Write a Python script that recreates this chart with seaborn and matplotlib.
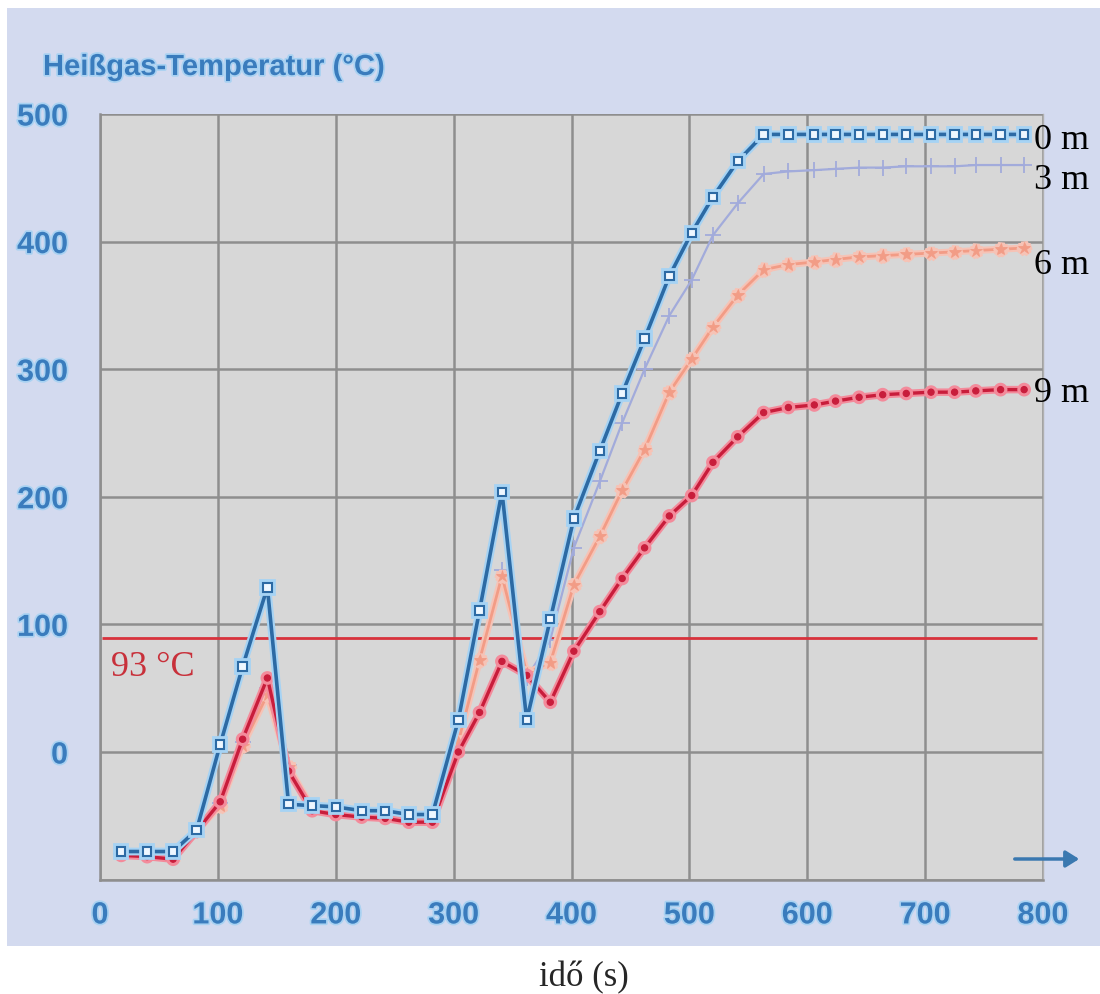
import matplotlib
matplotlib.use("Agg")
import matplotlib.pyplot as plt
import matplotlib.patheffects as pe
from matplotlib.patches import Rectangle, FancyArrowPatch
import seaborn as sns
import pandas as pd

# ---------------- data ----------------
time_s = [18, 40, 62, 82, 102, 121, 142, 160, 180, 200, 222, 242, 262, 282,
          304, 322, 341, 362, 382, 402, 424, 443, 462, 483, 502, 520, 541,
          563, 584, 606, 624, 644, 664, 684, 705, 725, 743, 764, 784]

temp_0m = [-78, -78, -78, -61, 6, 67, 129, -41, -42, -43, -46, -46, -49, -49,
           25, 111, 204, 25, 104, 183, 236, 281, 324, 373, 407, 435, 463,
           484, 484, 484, 484, 484, 484, 484, 484, 484, 484, 484, 484]

temp_3m = [-80, -80, -81, -62, -40, 8, 50, -10, -43, -46, -48, -49, -51, -52,
           10, 72, 143, 58, 88, 160, 212, 258, 300, 342, 370, 405, 430,
           453, 455, 456, 457, 458, 458, 459, 459, 459, 460, 460, 460]

temp_6m = [-79, -80, -82, -62, -42, 5, 45, -12, -44, -47, -49, -50, -52, -53,
           8, 72, 138, 62, 70, 131, 169, 205, 237, 282, 308, 333, 358,
           378, 382, 384, 386, 388, 389, 390, 391, 392, 393, 394, 395]

temp_9m = [-81, -82, -84, -62, -39, 10, 58, -15, -46, -49, -51, -52, -55, -55,
           0, 31, 71, 60, 39, 79, 110, 136, 160, 185, 201, 227, 247,
           266, 270, 272, 275, 278, 280, 281, 282, 282, 283, 284, 284]

series_names = ["0 m", "3 m", "6 m", "9 m"]
label_y = [480, 449, 382, 282]

threshold_value = 89
threshold_label = "93 °C"

x_ticks = [0, 100, 200, 300, 400, 500, 600, 700, 800]
y_ticks = [-100, 0, 100, 200, 300, 400, 500]
y_tick_labels = ["", "0", "100", "200", "300", "400", "500"]

title_text = "Heißgas-Temperatur (°C)"
xlabel_text = "idő (s)"

# ---------------- styling ----------------
sns.set_style("white")
plt.rcParams["font.family"] = ["Liberation Sans", "DejaVu Sans"]
SERIF = ["Liberation Serif", "DejaVu Serif"]

df = pd.DataFrame({
    "t": time_s * 4,
    "T": temp_0m + temp_3m + temp_6m + temp_9m,
    "depth": sum([[n] * len(time_s) for n in series_names], []),
})

W, H = 1100, 995
fig = plt.figure(figsize=(W / 100, H / 100), dpi=100)
fig.patch.set_facecolor("white")
fig.add_artist(Rectangle((7 / W, 1 - 947 / H), 1.0, (947 - 9) / H,
                         transform=fig.transFigure, facecolor="#d3daef",
                         edgecolor="none", zorder=0))

ax_l, ax_r, ax_t, ax_b = 100, 1043, 115, 880.6
ax = fig.add_axes([ax_l / W, 1 - ax_b / H, (ax_r - ax_l) / W, (ax_b - ax_t) / H])
ax.set_facecolor("#d7d7d7")
ax.set_zorder(1)

styles = {
    "3 m": dict(color="#a2abdb", marker="+", markersize=11, markeredgewidth=1.3,
                linewidth=1.6, halo=None, mfc="#a2abdb"),
    "6 m": dict(color="#f29c86", marker="*", markersize=9, markeredgewidth=0.6,
                linewidth=2.0, halo="#f6c3b6", mfc="#f29c86"),
    "9 m": dict(color="#c81d3b", marker="o", markersize=4.5, markeredgewidth=0.8,
                linewidth=2.4, halo="#f38b9b", mfc="#c81d3b"),
    "0 m": dict(color="#2c6aa4", marker="s", markersize=6, markeredgewidth=1.5,
                linewidth=2.6, halo="#a6d3f4", mfc="#eef7ff"),
}

for name in ["3 m", "6 m", "9 m", "0 m"]:
    st = styles[name]
    sub = df[df["depth"] == name]
    n_before = len(ax.lines)
    sns.lineplot(data=sub, x="t", y="T", ax=ax, color=st["color"],
                 linewidth=st["linewidth"], legend=False, zorder=3,
                 marker=st["marker"], markersize=st["markersize"],
                 markeredgewidth=st["markeredgewidth"],
                 markeredgecolor=st["color"], markerfacecolor=st["mfc"])
    line = ax.lines[n_before]
    if st["halo"]:
        line.set_path_effects([pe.Stroke(linewidth=st["linewidth"] + 3,
                                         foreground=st["halo"]), pe.Normal()])

# 93 °C line
ax.hlines(threshold_value, 2, 795, color="#d8323c", linewidth=2, zorder=2)
ax.text(9, 67, threshold_label, color="#c8303a", fontsize=26,
        family=SERIF, va="center", ha="left", zorder=4)

# right-hand depth labels
for name, yv in zip(series_names, label_y):
    ax.text(792, yv, name, fontsize=26, family=SERIF,
            color="black", va="center", ha="left", clip_on=False, zorder=4)

# axes limits, grid, ticks
ax.set_xlim(0, 800)
ax.set_ylim(-100, 500)
ax.set_xticks(x_ticks)
ax.set_yticks(y_ticks)
ax.set_yticklabels(y_tick_labels)
ax.grid(True, color="#8e8e8e", linewidth=1.8)
ax.set_axisbelow(True)
ax.set_xlabel("")
ax.set_ylabel("")

tick_color = "#3a7cbd"
ax.tick_params(axis="y", length=17, width=1.8, color="#8e8e8e", pad=6,
               labelsize=22, labelcolor=tick_color)
ax.tick_params(axis="x", length=0, pad=15, labelsize=22, labelcolor=tick_color)
glow = [pe.withStroke(linewidth=2.5, foreground="#a9d2f2")]
for lab in ax.get_xticklabels() + ax.get_yticklabels():
    lab.set_fontweight("bold")
    lab.set_path_effects(glow)

for side in ["left", "bottom"]:
    ax.spines[side].set_color("#8e8e8e")
    ax.spines[side].set_linewidth(1.8)
ax.spines["right"].set_color("#b0b0b0")
ax.spines["right"].set_linewidth(1.0)
ax.spines["top"].set_visible(False)

# title
fig.text(43 / W, 1 - 68 / H, title_text, fontsize=21, fontweight="bold",
         color="#3a7cbd", ha="left", va="center",
         path_effects=[pe.withStroke(linewidth=2.5, foreground="#a9d2f2")])

# arrow
fig.add_artist(FancyArrowPatch(
    (1012 / W, 1 - 860 / H), (1082 / W, 1 - 860 / H),
    transform=fig.transFigure, arrowstyle="-|>,head_length=8,head_width=5",
    color="#3a78b0", linewidth=2.5, zorder=5))

# x axis caption
fig.text(584 / W, 1 - 978 / H, xlabel_text, fontsize=25,
         family=SERIF, ha="center", va="center")

fig.savefig("out.png", dpi=100)
